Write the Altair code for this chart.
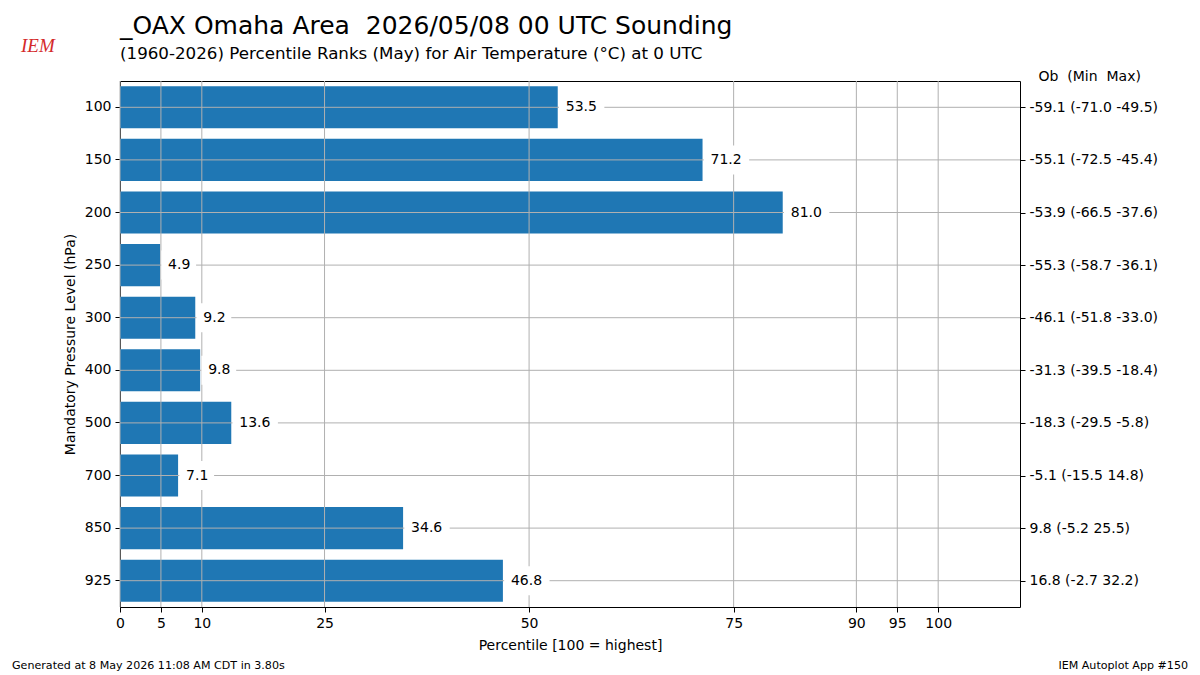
import altair as alt
import pandas as pd

# sounding levels and values
levels = ["100", "150", "200", "250", "300", "400", "500", "700", "850", "925"]
percentiles = [53.5, 71.2, 81.0, 4.9, 9.2, 9.8, 13.6, 7.1, 34.6, 46.8]
obs = [-59.1, -55.1, -53.9, -55.3, -46.1, -31.3, -18.3, -5.1, 9.8, 16.8]
mins = [-71.0, -72.5, -66.5, -58.7, -51.8, -39.5, -29.5, -15.5, -5.2, -2.7]
maxs = [-49.5, -45.4, -37.6, -36.1, -33.0, -18.4, -5.8, 14.8, 25.5, 32.2]
x_ticks = [0, 5, 10, 25, 50, 75, 90, 95, 100]

NB = "\u00a0"
TITLE = f"_OAX Omaha Area{NB}{NB}2026/05/08 00 UTC Sounding"
SUBTITLE = "(1960-2026) Percentile Ranks (May) for Air Temperature (°C) at 0 UTC"
FOOT_L = "Generated at 8 May 2026 11:08 AM CDT in 3.80s"
FOOT_R = "IEM Autoplot App #150"

FONT = "DejaVu Sans"
BLUE = "#1f77b4"
GRID = "#b0b0b0"
W, H = 900, 526

df = pd.DataFrame({"level": levels, "pct": percentiles})
df["label"] = [f"{p:.1f}" for p in percentiles]
df["ob"] = [f"{o:.1f} ({lo:.1f} {hi:.1f})" for o, lo, hi in zip(obs, mins, maxs)]
ticks_df = pd.DataFrame({"tick": x_ticks})

y_scale = alt.Scale(domain=levels, paddingInner=0.2, paddingOuter=0.1)
x_scale = alt.Scale(domain=[0, 110], nice=False, zero=False)

axis_text = dict(
    tickSize=5,
    tickColor="black",
    domain=False,
    labelFont=FONT,
    labelFontSize=14,
    labelColor="black",
    titleFont=FONT,
    titleFontSize=14,
    titleFontWeight="normal",
    titleColor="black",
)

base = alt.Chart(df)

bars = base.mark_bar(color=BLUE).encode(
    x=alt.X(
        "pct:Q",
        scale=x_scale,
        title="Percentile [100 = highest]",
        axis=alt.Axis(
            values=x_ticks,
            grid=False,
            labelFlush=False,
            labelPadding=4,
            titlePadding=8,
            **axis_text,
        ),
    ),
    y=alt.Y(
        "level:N",
        sort=levels,
        scale=y_scale,
        title="Mandatory Pressure Level (hPa)",
        axis=alt.Axis(labelPadding=4, titlePadding=7, **axis_text),
    ),
)

vgrid = alt.Chart(ticks_df).mark_rule(color=GRID, strokeWidth=1).encode(
    x=alt.X("tick:Q", scale=x_scale)
)

hgrid = base.mark_rule(color=GRID, strokeWidth=1).encode(
    y=alt.Y("level:N", sort=levels, scale=y_scale)
)

# white boxes behind the value labels, like matplotlib's bbox
boxes = (
    base.transform_calculate(
        x0="datum.pct + 0.15",
        x1="datum.pct + 0.5 + length(datum.label) * 1.3",
    )
    .mark_bar(color="white", height=29)
    .encode(
        x=alt.X("x0:Q", scale=x_scale),
        x2="x1:Q",
        y=alt.Y("level:N", sort=levels, scale=y_scale),
    )
)

labels = base.mark_text(
    align="left", baseline="middle", dx=8, font=FONT, fontSize=14, color="black"
).encode(
    x=alt.X("pct:Q", scale=x_scale),
    y=alt.Y("level:N", sort=levels, scale=y_scale),
    text="label:N",
)

main = alt.layer(bars, vgrid, hgrid, boxes, labels)

right = base.mark_point(opacity=0).encode(
    y=alt.Y(
        "ob:N",
        sort=list(df["ob"]),
        scale=alt.Scale(paddingInner=0.2, paddingOuter=0.1),
        title=f"Ob{NB}{NB}(Min{NB}{NB}Max)",
        axis=alt.Axis(
            orient="right",
            labelPadding=4,
            titleAngle=0,
            titleAlign="left",
            titleBaseline="bottom",
            titleX=18,
            titleY=2,
            **axis_text,
        ),
    )
)

one = pd.DataFrame({"a": [0]})


def note(text, x, y, size, align="left", **kw):
    return alt.Chart(one).mark_text(
        align=align, baseline="middle", fontSize=size, **kw
    ).encode(x=alt.value(x), y=alt.value(y), text=alt.value(text))


title = note(TITLE, 0, -55, 25, font=FONT, color="black")
subtitle = note(SUBTITLE, 0, -27, 16.7, font=FONT, color="black")
footer_left = note(FOOT_L, -108, H + 59, 11.1, font=FONT, color="black")
footer_right = note(FOOT_R, W + 168, H + 59, 11.1, align="right", font=FONT, color="black")
logo = note(
    "IEM", -99, -35, 19,
    font="Liberation Serif", fontStyle="italic", color="#d42a2a",
)

chart = (
    alt.layer(main, right, title, subtitle, footer_left, footer_right, logo)
    .resolve_scale(y="independent")
    .properties(
        width=W,
        height=H,
        autosize=alt.AutoSizeParams(type="none"),
        padding={"left": 112, "top": 73, "right": 172, "bottom": 66},
    )
    .configure_view(stroke="black", strokeWidth=1)
)

chart.save("out.html", embed_options={"renderer": "svg", "actions": False})
